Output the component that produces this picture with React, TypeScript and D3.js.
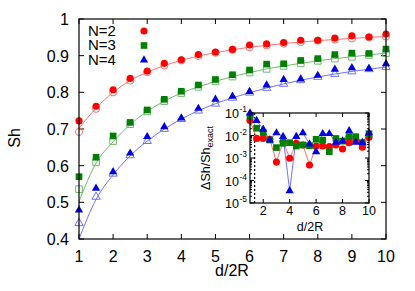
import React from 'react';
import * as d3 from 'd3';

// d/2R sampling, shared by every series
const dist = [1, 1.5, 2, 2.5, 3, 3.5, 4, 4.5, 5, 5.5, 6, 6.5, 7, 7.5, 8, 8.5, 9, 9.5, 10];

// simulated Sh (filled markers)
const simN2 = [0.722, 0.762, 0.807, 0.838, 0.858, 0.879, 0.889, 0.903, 0.910, 0.917, 0.929, 0.932, 0.936, 0.942, 0.942, 0.948, 0.954, 0.951, 0.959];
const simN3 = [0.570, 0.623, 0.681, 0.718, 0.752, 0.781, 0.803, 0.820, 0.835, 0.848, 0.861, 0.877, 0.878, 0.887, 0.892, 0.903, 0.907, 0.906, 0.918];
const simN4 = [0.479, 0.538, 0.583, 0.634, 0.679, 0.706, 0.730, 0.756, 0.781, 0.789, 0.802, 0.820, 0.835, 0.836, 0.846, 0.863, 0.867, 0.865, 0.878];

// exact Sh (open markers)
const exN2 = [0.692, 0.755, 0.800, 0.832, 0.855, 0.873, 0.887, 0.899, 0.908, 0.916, 0.923, 0.928, 0.933, 0.937, 0.941, 0.944, 0.947, 0.950, 0.952];
const exN3 = [0.536, 0.609, 0.667, 0.713, 0.748, 0.776, 0.798, 0.815, 0.830, 0.843, 0.854, 0.864, 0.872, 0.879, 0.886, 0.892, 0.897, 0.902, 0.907];
const exN4 = [0.443, 0.515, 0.578, 0.628, 0.667, 0.700, 0.727, 0.750, 0.769, 0.785, 0.799, 0.812, 0.823, 0.833, 0.842, 0.850, 0.857, 0.863, 0.869];

// smooth curves (lines)
const curveN2 = [0.702, 0.757, 0.800, 0.832, 0.855, 0.873, 0.887, 0.899, 0.908, 0.916, 0.923, 0.928, 0.933, 0.937, 0.941, 0.944, 0.947, 0.950, 0.952];
const curveN3 = [0.502, 0.607, 0.665, 0.712, 0.748, 0.776, 0.798, 0.815, 0.830, 0.843, 0.854, 0.864, 0.872, 0.879, 0.886, 0.892, 0.897, 0.902, 0.907];
const curveN4 = [0.400, 0.508, 0.575, 0.627, 0.667, 0.700, 0.727, 0.750, 0.769, 0.785, 0.799, 0.812, 0.823, 0.833, 0.842, 0.850, 0.857, 0.863, 0.869];

// relative error (inset)
const errN2 = [4.6e-2, 7.4e-3, 7.4e-3, 6.8e-3, 6.6e-4, 5.4e-3, 9.8e-4, 4.5e-3, 3.8e-3, 4.9e-4, 3.4e-3, 3.4e-3, 3.2e-3, 3.8e-3, 2.5e-3, 4.8e-3, 5.9e-3, 3.0e-3, 8.3e-3];
const errN3 = [6.9e-2, 2.1e-2, 1.35e-2, 6.3e-3, 2.9e-3, 4.5e-3, 4.8e-3, 3.4e-3, 3.8e-3, 3.5e-3, 6.8e-3, 6.3e-3, 1.9e-3, 7.4e-3, 5.6e-3, 8.9e-3, 8.9e-3, 4.8e-3, 1.2e-2];
const errN4 = [1.0e-1, 4.6e-2, 1.9e-2, 6.3e-3, 1.3e-2, 8.9e-3, 3.5e-5, 8.9e-3, 1.3e-2, 4.2e-3, 1.9e-3, 1.2e-2, 1.2e-2, 5.0e-3, 5.6e-3, 1.6e-2, 5.0e-3, 4.8e-3, 1.3e-2];

const legendLabels = ['N=2', 'N=3', 'N=4'];
const xTicks = [1, 2, 3, 4, 5, 6, 7, 8, 9, 10];
const yTicks = [0.4, 0.5, 0.6, 0.7, 0.8, 0.9, 1];
const insetXTicks = [2, 4, 6, 8, 10];
const insetExps = [-5, -4, -3, -2, -1];
const cutoff = 1.35;

const FONT = '"Liberation Sans", Arial, sans-serif';

const series = [
  { sim: simN2, ex: exN2, curve: curveN2, err: errN2, color: '#ff0000', light: '#ff7070', shape: d3.symbolCircle, size: 40 },
  { sim: simN3, ex: exN3, curve: curveN3, err: errN3, color: '#008000', light: '#70b870', shape: d3.symbolSquare, size: 44 },
  { sim: simN4, ex: exN4, curve: curveN4, err: errN4, color: '#0000e0', light: '#7070ff', shape: d3.symbolTriangle, size: 30 },
];

export default function App() {
  const x = d3.scaleLinear().domain([1, 10]).range([79, 386]);
  const y = d3.scaleLinear().domain([0.4, 1]).range([239, 19]);
  const ix = d3.scaleLinear().domain([1, 10]).range([250, 369]);
  const iy = d3.scaleLog().domain([1e-5, 1e-1]).range([203, 113]);

  const curveLine = (vals: number[]) =>
    d3.line<number>().x((_, i) => x(dist[i])).y(v => y(v)).curve(d3.curveMonotoneX)(vals) || '';
  const errLine = (vals: number[]) =>
    d3.line<number>().x((_, i) => ix(dist[i])).y(v => iy(v))(vals) || '';

  const minor: number[] = [];
  insetExps.slice(0, -1).forEach(e => {
    for (let k = 2; k <= 9; k++) minor.push(k * Math.pow(10, e));
  });

  const [x0, x1] = x.range();
  const [y0, y1] = y.range();
  const [ix0, ix1] = ix.range();
  const [iy0, iy1] = iy.range();

  return (
    <div style={{ position: 'fixed', left: 0, top: 0 }}>
      <svg width={415} height={291} style={{ display: 'block', background: '#fff' }} fontFamily={FONT}>
        {/* main ticks */}
        {xTicks.map(t => (
          <g key={'xt' + t}>
            <line x1={x(t)} x2={x(t)} y1={y0} y2={y0 - 5} stroke="#000" />
            <line x1={x(t)} x2={x(t)} y1={y1} y2={y1 + 5} stroke="#000" />
            <text x={x(t)} y={262} fontSize={16} textAnchor="middle">{t}</text>
          </g>
        ))}
        {yTicks.map(t => (
          <g key={'yt' + t}>
            <line x1={x0} x2={x0 + 5} y1={y(t)} y2={y(t)} stroke="#000" />
            <line x1={x1} x2={x1 - 5} y1={y(t)} y2={y(t)} stroke="#000" />
            <text x={69} y={y(t) + 6} fontSize={16} textAnchor="end">{t}</text>
          </g>
        ))}

        {/* curves, exact and simulated points */}
        {series.map((s, k) => (
          <path key={'c' + k} d={curveLine(s.curve)} fill="none" stroke={s.light} strokeWidth={1} />
        ))}
        {series.map((s, k) =>
          s.ex.map((v, i) => (
            <path key={'e' + k + '-' + i} d={d3.symbol(s.shape, s.size)() || ''}
              transform={`translate(${x(dist[i])},${y(v)})`} fill="none" stroke={s.light} strokeWidth={1} />
          ))
        )}
        {series.map((s, k) =>
          s.sim.map((v, i) => (
            <path key={'s' + k + '-' + i} d={d3.symbol(s.shape, s.size)() || ''}
              transform={`translate(${x(dist[i])},${y(v)})`} fill={s.color} />
          ))
        )}

        <rect x={x0} y={y1} width={x1 - x0} height={y0 - y1} fill="none" stroke="#000" strokeWidth={1.2} />

        {/* legend */}
        {legendLabels.map((lab, k) => (
          <g key={'lg' + k}>
            <text x={88} y={36 + k * 14.3} fontSize={15}>{lab}</text>
            <path d={d3.symbol(series[k].shape, series[k].size)() || ''}
              transform={`translate(144,${31 + k * 14.5})`} fill={series[k].color} />
          </g>
        ))}

        <text transform="translate(20,138) rotate(-90)" fontSize={16} textAnchor="middle">Sh</text>
        <text x={232} y={276} fontSize={16} textAnchor="middle">d/2R</text>

        {/* inset */}
        <rect x={ix0} y={iy1} width={ix1 - ix0} height={iy0 - iy1} fill="#fff" />
        {insetXTicks.map(t => (
          <g key={'ixt' + t}>
            <line x1={ix(t)} x2={ix(t)} y1={iy0} y2={iy0 - 4} stroke="#000" />
            <line x1={ix(t)} x2={ix(t)} y1={iy1} y2={iy1 + 4} stroke="#000" />
            <text x={ix(t)} y={215} fontSize={12.5} textAnchor="middle">{t}</text>
          </g>
        ))}
        {insetExps.map(e => (
          <g key={'iyt' + e}>
            <line x1={ix0} x2={ix0 + 4} y1={iy(Math.pow(10, e))} y2={iy(Math.pow(10, e))} stroke="#000" />
            <line x1={ix1} x2={ix1 - 4} y1={iy(Math.pow(10, e))} y2={iy(Math.pow(10, e))} stroke="#000" />
            <text x={239} y={iy(Math.pow(10, e)) + 5} fontSize={12.5} textAnchor="end">10</text>
            <text x={239.5} y={iy(Math.pow(10, e)) - 1} fontSize={8.5}>{e}</text>
          </g>
        ))}
        {minor.map((m, i) => (
          <g key={'mn' + i}>
            <line x1={ix0} x2={ix0 + 2} y1={iy(m)} y2={iy(m)} stroke="#000" />
            <line x1={ix1} x2={ix1 - 2} y1={iy(m)} y2={iy(m)} stroke="#000" />
          </g>
        ))}
        <line x1={ix(cutoff)} x2={ix(cutoff)} y1={iy1} y2={iy0} stroke="#000" strokeWidth={1.2} strokeDasharray="2,2" />
        {series.map((s, k) => (
          <path key={'el' + k} d={errLine(s.err)} fill="none" stroke={s.light} strokeWidth={1} />
        ))}
        {series.map((s, k) =>
          s.err.map((v, i) => (
            <path key={'ep' + k + '-' + i} d={d3.symbol(s.shape, s.size)() || ''}
              transform={`translate(${ix(dist[i])},${iy(v)})`} fill={s.color} />
          ))
        )}
        <rect x={ix0} y={iy1} width={ix1 - ix0} height={iy0 - iy1} fill="none" stroke="#000" strokeWidth={1.2} />
        <text x={310} y={231} fontSize={12.5} textAnchor="middle">d/2R</text>
        <text transform="translate(210,158) rotate(-90)" fontSize={12.5} textAnchor="middle">
          ΔSh/Sh<tspan fontSize={9} dy={3}>exact</tspan>
        </text>
      </svg>
    </div>
  );
}
